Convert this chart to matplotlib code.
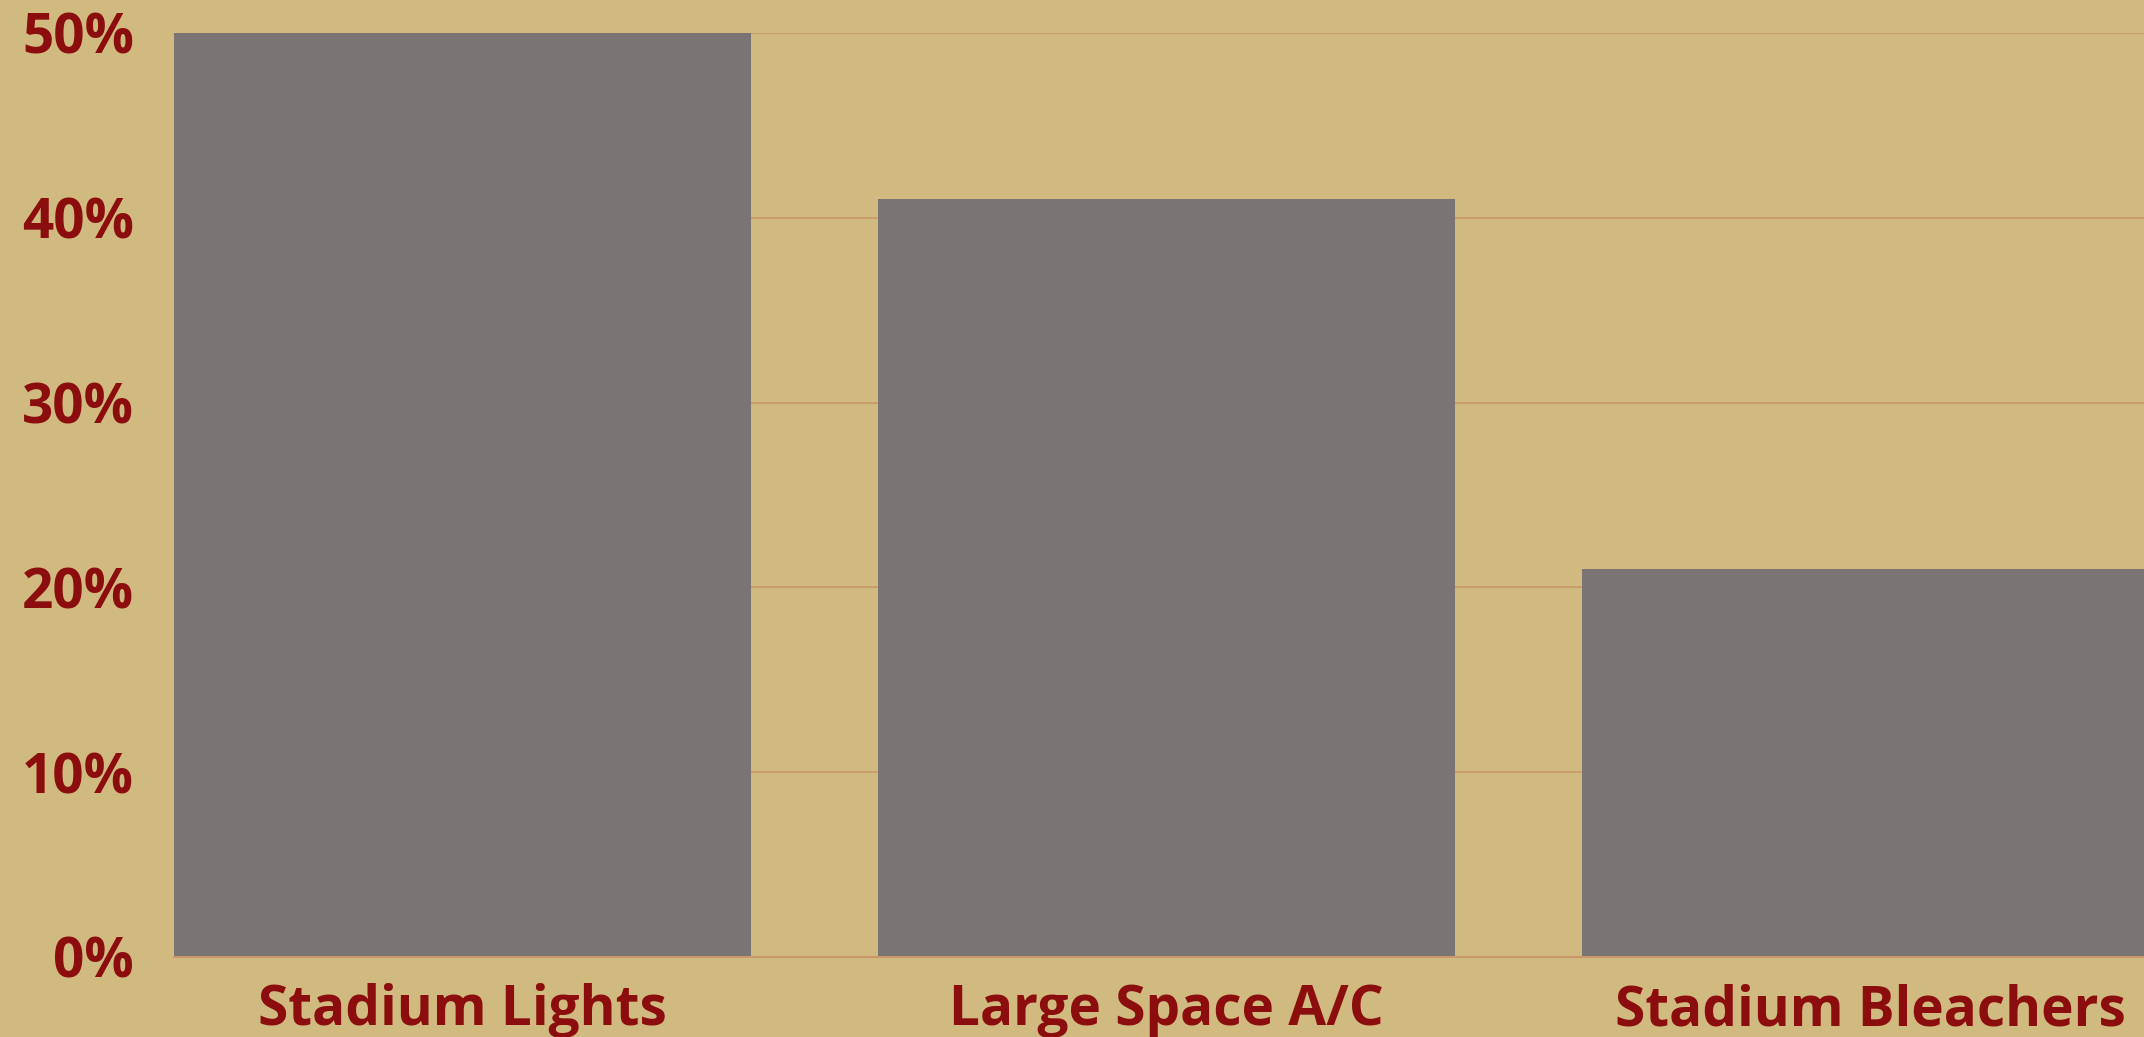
import matplotlib.pyplot as plt
from matplotlib.ticker import FuncFormatter

# Data
categories = ["Stadium Lights", "Large Space A/C", "Stadium Bleachers"]
values = [50, 41, 21]
yticks = [0, 10, 20, 30, 40, 50]

bg = "#D1BA7F"
bar_color = "#7A7475"
text_color = "#8B0D0D"
grid_color = "#C9986A"

plt.rcParams['font.family'] = ['Open Sans', 'DejaVu Sans']

fig = plt.figure(figsize=(21.44, 10.37), dpi=100, facecolor=bg)
ax = fig.add_axes([0.081, 0.0772, 0.919, 0.8910])
ax.set_facecolor(bg)

x = range(len(categories))
ax.bar(x, values, width=0.82, color=bar_color, zorder=2)

ax.set_xlim(-0.41, 2.388)
ax.set_ylim(0, 50)
ax.set_yticks(yticks)
ax.yaxis.set_major_formatter(FuncFormatter(lambda v, p: f"{v:.0f}%"))
ax.set_xticks(list(x))
ax.set_xticklabels(categories)

ax.grid(axis='y', color=grid_color, linewidth=1.2, zorder=0)
ax.set_axisbelow(True)

for side in ['top', 'right', 'left']:
    ax.spines[side].set_visible(False)
ax.spines['bottom'].set_color(grid_color)
ax.spines['bottom'].set_linewidth(1.5)
ax.spines['bottom'].set_zorder(3)

ax.tick_params(axis='both', length=0, colors=text_color, labelsize=39.5)
ax.tick_params(axis='y', pad=28.5)
ax.tick_params(axis='x', pad=19)
for lbl in ax.get_xticklabels() + ax.get_yticklabels():
    lbl.set_fontweight('bold')

fig.savefig("out.png", dpi=100, facecolor=bg)
